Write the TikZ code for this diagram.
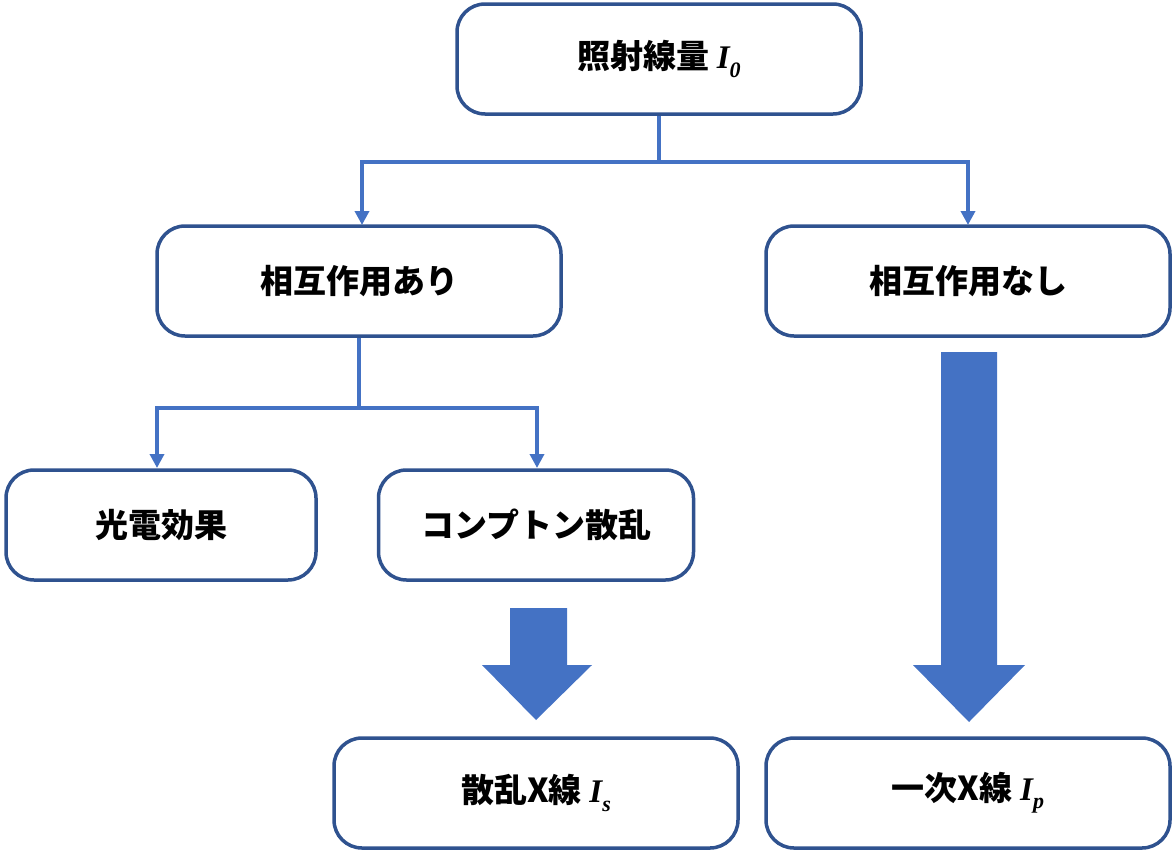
\documentclass[tikz,border=0pt]{standalone}
\usepackage{fontspec}
\setmainfont{Noto Sans CJK JP}
\newfontfamily\mfont{Liberation Serif}
\newcommand{\mv}[2]{{\mfont\bfseries\itshape #1\raisebox{-0.25em}{\fontsize{22}{24}\selectfont #2}}}
\usetikzlibrary{arrows.meta}
\definecolor{bdr}{HTML}{2F528F}
\definecolor{acc}{HTML}{4472C4}
\tikzset{
  box/.style={draw=bdr,line width=3.5pt,rounded corners=28pt,fill=white,minimum width=404pt,minimum height=110pt,font=\fontsize{33}{36}\selectfont\bfseries},
  conn/.style={draw=acc,line width=3.5pt},
  arr/.style={conn,-{Triangle[length=14pt,width=14pt]}},
  blk/.style={fill=acc,draw=none}
}
\begin{document}
\begin{tikzpicture}[x=1pt,y=-1pt]
\useasboundingbox (0,0) rectangle (1175,854);
\node[box] (top) at (659,59) {照射線量 \mv{I}{0}};
\node[box] (ari) at (359,281) {相互作用あり};
\node[box] (nashi) at (968,281) {相互作用なし};
\node[box,minimum width=310pt] (photo) at (161,525) {光電効果};
\node[box,minimum width=315pt] (comp) at (536,525) {コンプトン散乱};
\node[box] (scat) at (536,793) {散乱X線 \mv{I}{s}};
\node[box] (prim) at (968,793) {一次X線 \mv{I}{p}};
\coordinate (j1) at (659,162);
\coordinate (j2) at (359,408);
\draw[conn] (top.south) -- (j1);
\draw[arr] (j1) -- (362,162) -- (362,225);
\draw[arr] (j1) -- (968,162) -- (968,225);
\draw[conn] (ari.south) -- (j2);
\draw[arr] (j2) -- (157,408) -- (157,468);
\draw[arr] (j2) -- (537,408) -- (537,468);
\fill[blk] (510,608) -- (567,608) -- (567,665) -- (592,665) -- (536,720) -- (482,665) -- (510,665) -- cycle;
\fill[blk] (941,352) -- (997,352) -- (997,665) -- (1025,665) -- (969,722) -- (913,665) -- (941,665) -- cycle;
\end{tikzpicture}
\end{document}
